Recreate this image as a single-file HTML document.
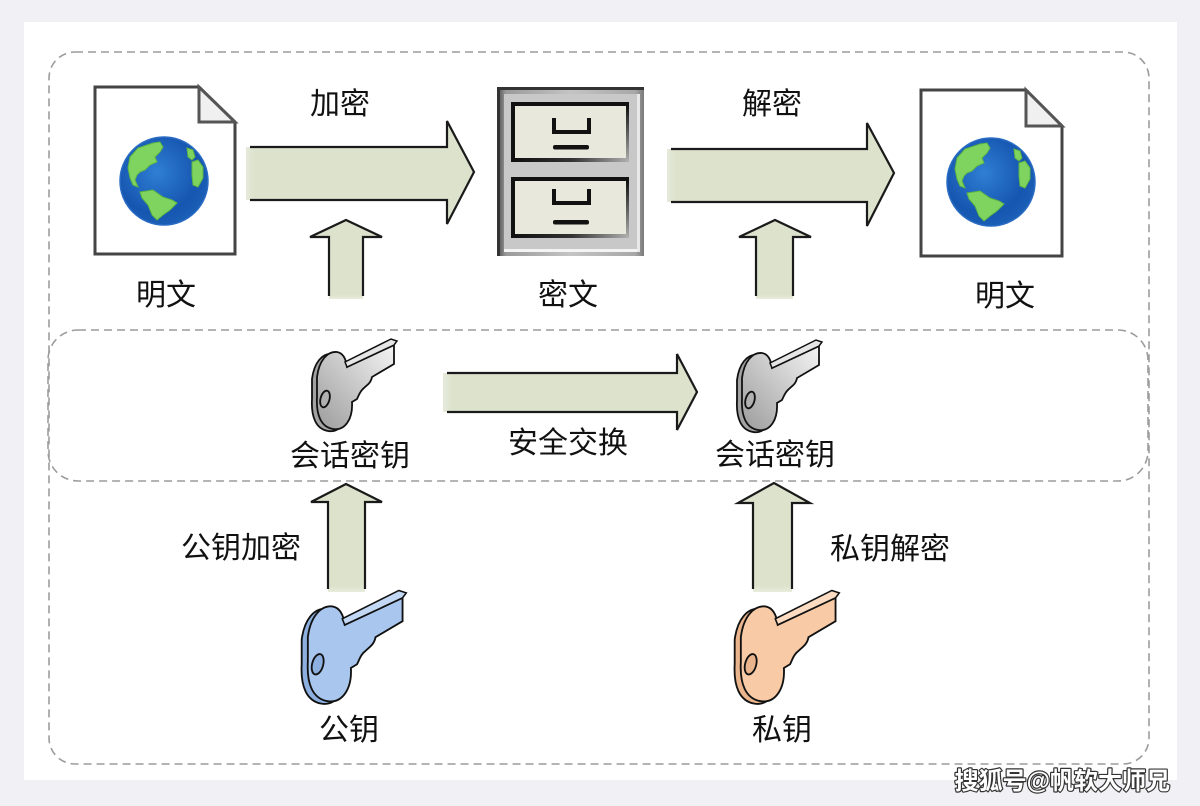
<!DOCTYPE html>
<html><head><meta charset="utf-8"><style>
html,body{margin:0;padding:0;background:#f1f1f5;}
svg{display:block;}
text{font-family:"Liberation Sans","Noto Sans CJK SC",sans-serif;}
</style></head><body>
<svg width="1200" height="806" viewBox="0 0 1200 806" xmlns="http://www.w3.org/2000/svg">
<defs>
  <radialGradient id="globe" cx="0.42" cy="0.4" r="0.62">
    <stop offset="0" stop-color="#2f7fd4"/>
    <stop offset="0.75" stop-color="#1656b0"/>
    <stop offset="1" stop-color="#1a5fb6"/>
  </radialGradient>
  <linearGradient id="grayKey" x1="1" y1="0" x2="0" y2="1">
    <stop offset="0" stop-color="#f4f4f4"/>
    <stop offset="1" stop-color="#9c9c9c"/>
  </linearGradient>
  <linearGradient id="frame" x1="0" y1="0" x2="1" y2="0">
    <stop offset="0" stop-color="#4a4a4a"/>
    <stop offset="0.06" stop-color="#9a9a9a"/>
    <stop offset="0.5" stop-color="#c4c4c4"/>
    <stop offset="0.94" stop-color="#a8a8a8"/>
    <stop offset="1" stop-color="#7a7a7a"/>
  </linearGradient>
  <linearGradient id="dbot" x1="0" y1="0" x2="1" y2="0">
    <stop offset="0" stop-color="#111"/>
    <stop offset="0.5" stop-color="#333"/>
    <stop offset="1" stop-color="#b0b0b0"/>
  </linearGradient>
  <linearGradient id="dright" x1="0" y1="0" x2="0" y2="1">
    <stop offset="0" stop-color="#111"/>
    <stop offset="1" stop-color="#b0b0b0"/>
  </linearGradient>
  <linearGradient id="hfill" x1="0" y1="0" x2="1" y2="0">
    <stop offset="0" stop-color="#e6eadb"/>
    <stop offset="0.04" stop-color="#dce2cc"/>
    <stop offset="1" stop-color="#dce2cc"/>
  </linearGradient>
  <linearGradient id="vfill" x1="0" y1="1" x2="0" y2="0">
    <stop offset="0" stop-color="#e8ecdc"/>
    <stop offset="0.06" stop-color="#dce2cc"/>
    <stop offset="1" stop-color="#dce2cc"/>
  </linearGradient>
</defs>

<!-- panel -->
<rect x="24" y="22" width="1153" height="758" fill="#ffffff"/>

<!-- dashed containers -->
<rect x="49" y="52" width="1100" height="712" rx="26" ry="26" fill="none" stroke="#9c9c9c" stroke-width="1.6" stroke-dasharray="8 5"/>
<rect x="48" y="330" width="1100" height="151" rx="30" ry="30" fill="none" stroke="#9c9c9c" stroke-width="1.6" stroke-dasharray="8 5"/>

<!-- left document -->
<path d="M95 87 L199 87 L235 122 L235 254 L95 254 Z" fill="#fff" stroke="#444" stroke-width="3"/>
<path d="M199 87 L199 122 L235 122 Z" fill="#f0f0f0" stroke="#555" stroke-width="3" stroke-linejoin="miter"/>
<g transform="translate(164,181)">
  <circle r="44" fill="url(#globe)" stroke="#2a6cc4" stroke-width="1.5"/>
  <g fill="#7fd45f" stroke="#5db544" stroke-width="1">
    <path d="M-34 -24 L-26 -33 L-17 -36 L-11 -38 L-4 -39 L-1 -34 L-4 -29 L-9 -24 L-7 -19 L-14 -16 L-19 -11 L-24 -9 L-27 -6 L-29 -1 L-26 6 L-31 4 L-34 -3 L-36 -13 Z"/>
    <path d="M-24 11 L-11 9 L-1 16 L8 19 L13 22 L6 29 L-1 34 L-7 39 L-12 34 L-16 24 L-22 17 Z"/>
    <path d="M28 -19 L34 -21 L39 -14 L39 -3 L34 6 L29 4 L28 -6 Z"/>
    <path d="M23 -33 L29 -31 L31 -24 L28 -21 L24 -24 Z"/>
  </g>
</g>

<!-- right document -->
<path d="M921 90 L1026 90 L1062 126 L1062 256 L921 256 Z" fill="#fff" stroke="#444" stroke-width="3"/>
<path d="M1026 90 L1026 126 L1062 126 Z" fill="#f0f0f0" stroke="#555" stroke-width="3"/>
<g transform="translate(991,182)">
  <circle r="44" fill="url(#globe)" stroke="#2a6cc4" stroke-width="1.5"/>
  <g fill="#7fd45f" stroke="#5db544" stroke-width="1">
    <path d="M-34 -24 L-26 -33 L-17 -36 L-11 -38 L-4 -39 L-1 -34 L-4 -29 L-9 -24 L-7 -19 L-14 -16 L-19 -11 L-24 -9 L-27 -6 L-29 -1 L-26 6 L-31 4 L-34 -3 L-36 -13 Z"/>
    <path d="M-24 11 L-11 9 L-1 16 L8 19 L13 22 L6 29 L-1 34 L-7 39 L-12 34 L-16 24 L-22 17 Z"/>
    <path d="M28 -19 L34 -21 L39 -14 L39 -3 L34 6 L29 4 L28 -6 Z"/>
    <path d="M23 -33 L29 -31 L31 -24 L28 -21 L24 -24 Z"/>
  </g>
</g>

<!-- cabinet -->
<rect x="497" y="87" width="147" height="169" fill="url(#frame)"/>
<rect x="497" y="87" width="147" height="3" fill="#333"/>
<rect x="497" y="87" width="3" height="169" fill="#333"/>
<rect x="504" y="94" width="133" height="155" fill="#c8c8c8"/>
<rect x="504" y="249" width="136" height="3" fill="#f4f4f4"/>
<rect x="637" y="94" width="3" height="158" fill="#e8e8e8"/>
<!-- top drawer -->
<rect x="511" y="102" width="118" height="60" fill="#111"/>
<rect x="515" y="106" width="111" height="52" fill="#e9e8dc"/>
<rect x="515" y="158" width="114" height="4" fill="url(#dbot)"/>
<rect x="626" y="106" width="3" height="56" fill="url(#dright)"/>
<path d="M554 118 L554 132 L589 132 L589 118" fill="none" stroke="#111" stroke-width="4"/>
<rect x="553" y="145" width="36" height="4.5" rx="2" fill="#111"/>
<!-- bottom drawer -->
<rect x="511" y="177" width="118" height="61" fill="#111"/>
<rect x="515" y="181" width="111" height="53" fill="#e9e8dc"/>
<rect x="515" y="234" width="114" height="4" fill="url(#dbot)"/>
<rect x="626" y="181" width="3" height="57" fill="url(#dright)"/>
<path d="M554 189 L554 203 L589 203 L589 189" fill="none" stroke="#111" stroke-width="4"/>
<rect x="553" y="220" width="36" height="4.5" rx="2" fill="#111"/>

<!-- horizontal arrows -->
<polygon points="246,147 447,147 447,121 474,172 447,224 447,200 246,200" fill="url(#hfill)"/>
<polyline points="250,147 447,147 447,121 474,172 447,224 447,200 250,200" fill="none" stroke="#1a1a1a" stroke-width="2.2"/>

<polygon points="667,149 867,149 867,123 894,173 867,226 867,202 667,202" fill="url(#hfill)"/>
<polyline points="671,149 867,149 867,123 894,173 867,226 867,202 671,202" fill="none" stroke="#1a1a1a" stroke-width="2.2"/>

<polygon points="443,373 677,373 677,354 697,392 677,430 677,412 443,412" fill="url(#hfill)"/>
<polyline points="447,373 677,373 677,354 697,392 677,430 677,412 447,412" fill="none" stroke="#1a1a1a" stroke-width="2.2"/>

<!-- vertical arrows -->
<polygon points="329,299 329,237 310,237 346,220 382,237 363,237 363,299" fill="url(#vfill)"/>
<polyline points="329,296 329,237 310,237 346,220 382,237 363,237 363,296" fill="none" stroke="#1a1a1a" stroke-width="2.2"/>

<polygon points="756,299 756,237 739,237 775,220 811,237 793,237 793,299" fill="url(#vfill)"/>
<polyline points="756,296 756,237 739,237 775,220 811,237 793,237 793,296" fill="none" stroke="#1a1a1a" stroke-width="2.2"/>

<polygon points="328,592 328,502 311,502 346,484 382,502 365,502 365,592" fill="url(#vfill)"/>
<polyline points="328,589 328,502 311,502 346,484 382,502 365,502 365,589" fill="none" stroke="#1a1a1a" stroke-width="2.2"/>

<polygon points="753,592 753,503 738,503 774,483 810,503 792,503 792,592" fill="url(#vfill)"/>
<polyline points="753,589 753,503 738,503 774,483 810,503 792,503 792,589" fill="none" stroke="#1a1a1a" stroke-width="2.2"/>

<!-- session key left -->
<g transform="translate(309,337)">
  <path transform="translate(-5,2)" d="M8 40 C10 24 18 14 28 15 C34 16 37 22 38 30 L85 8 L85 27 L63 40 C62 46 58 48 55 51 C51 54 50 58 48 62 L43 65 C44 82 36 94 24 92 C12 90 7 78 8 60 Z" fill="#a2a2a2" stroke="#111" stroke-width="1.8"/>
  <path d="M8 40 C10 24 18 14 28 15 C34 16 37 22 38 30 L85 8 L85 27 L63 40 C62 46 58 48 55 51 C51 54 50 58 48 62 L43 65 C44 82 36 94 24 92 C12 90 7 78 8 60 Z" fill="url(#grayKey)" stroke="#111" stroke-width="1.8"/>
  <path d="M38 30 L36 25 L82 2 L88 4 L85 8 Z" fill="#e6e6e6" stroke="#111" stroke-width="1.5"/>
  <ellipse cx="16" cy="62" rx="4.5" ry="8.5" transform="rotate(15 16 62)" fill="#b0b0b0" stroke="#111" stroke-width="1.8"/>
</g>
<!-- session key right -->
<g transform="translate(734,338)">
  <path transform="translate(-5,2)" d="M8 40 C10 24 18 14 28 15 C34 16 37 22 38 30 L85 8 L85 27 L63 40 C62 46 58 48 55 51 C51 54 50 58 48 62 L43 65 C44 82 36 94 24 92 C12 90 7 78 8 60 Z" fill="#a2a2a2" stroke="#111" stroke-width="1.8"/>
  <path d="M8 40 C10 24 18 14 28 15 C34 16 37 22 38 30 L85 8 L85 27 L63 40 C62 46 58 48 55 51 C51 54 50 58 48 62 L43 65 C44 82 36 94 24 92 C12 90 7 78 8 60 Z" fill="url(#grayKey)" stroke="#111" stroke-width="1.8"/>
  <path d="M38 30 L36 25 L82 2 L88 4 L85 8 Z" fill="#e6e6e6" stroke="#111" stroke-width="1.5"/>
  <ellipse cx="16" cy="62" rx="4.5" ry="8.5" transform="rotate(15 16 62)" fill="#b0b0b0" stroke="#111" stroke-width="1.8"/>
</g>
<!-- public key -->
<g transform="translate(298,588) scale(1.23)">
  <path transform="translate(-5,2)" d="M8 40 C10 24 18 14 28 15 C34 16 37 22 38 30 L85 8 L85 27 L63 40 C62 46 58 48 55 51 C51 54 50 58 48 62 L43 65 C44 82 36 94 24 92 C12 90 7 78 8 60 Z" fill="#8eb0e0" stroke="#111" stroke-width="1.5"/>
  <path d="M8 40 C10 24 18 14 28 15 C34 16 37 22 38 30 L85 8 L85 27 L63 40 C62 46 58 48 55 51 C51 54 50 58 48 62 L43 65 C44 82 36 94 24 92 C12 90 7 78 8 60 Z" fill="#a9c7ee" stroke="#111" stroke-width="1.5"/>
  <path d="M38 30 L36 25 L82 2 L88 4 L85 8 Z" fill="#c3d8f4" stroke="#111" stroke-width="1.3"/>
  <ellipse cx="16" cy="62" rx="4.5" ry="8.5" transform="rotate(15 16 62)" fill="#8eb0e0" stroke="#111" stroke-width="1.5"/>
</g>
<!-- private key -->
<g transform="translate(731,588) scale(1.23)">
  <path transform="translate(-5,2)" d="M8 40 C10 24 18 14 28 15 C34 16 37 22 38 30 L85 8 L85 27 L63 40 C62 46 58 48 55 51 C51 54 50 58 48 62 L43 65 C44 82 36 94 24 92 C12 90 7 78 8 60 Z" fill="#eab48c" stroke="#111" stroke-width="1.5"/>
  <path d="M8 40 C10 24 18 14 28 15 C34 16 37 22 38 30 L85 8 L85 27 L63 40 C62 46 58 48 55 51 C51 54 50 58 48 62 L43 65 C44 82 36 94 24 92 C12 90 7 78 8 60 Z" fill="#f8cba6" stroke="#111" stroke-width="1.5"/>
  <path d="M38 30 L36 25 L82 2 L88 4 L85 8 Z" fill="#fbdcc2" stroke="#111" stroke-width="1.3"/>
  <ellipse cx="16" cy="62" rx="4.5" ry="8.5" transform="rotate(15 16 62)" fill="#eab48c" stroke="#111" stroke-width="1.5"/>
</g>

<!-- labels -->
<g font-size="30" fill="#111" text-anchor="middle">
  <text x="340" y="114">加密</text>
  <text x="772" y="114">解密</text>
  <text x="166" y="305">明文</text>
  <text x="568" y="305">密文</text>
  <text x="1005" y="306">明文</text>
  <text x="350" y="466">会话密钥</text>
  <text x="775" y="465">会话密钥</text>
  <text x="568" y="453">安全交换</text>
  <text x="241" y="558">公钥加密</text>
  <text x="890" y="559">私钥解密</text>
  <text x="349" y="740">公钥</text>
  <text x="782" y="740">私钥</text>
</g>

<!-- watermark -->
<text x="1170" y="789" text-anchor="end" font-size="24" font-weight="bold" fill="#ffffff" stroke="#333" stroke-width="2.4" paint-order="stroke" stroke-linejoin="round">搜狐号@帆软大师兄</text>
</svg>
</body></html>
